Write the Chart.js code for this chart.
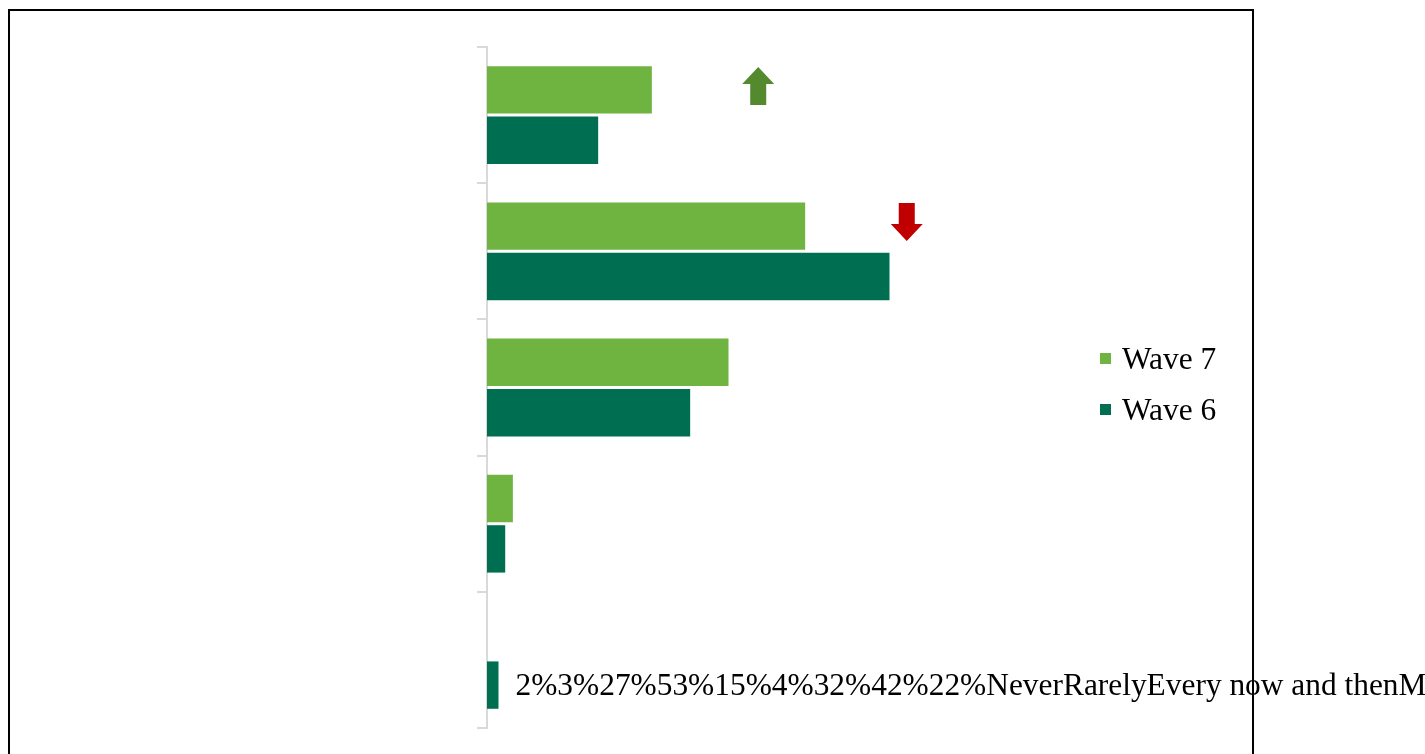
<!DOCTYPE html>
<html>
<head>
<meta charset="utf-8">
<script src="https://cdn.jsdelivr.net/npm/chart.js@4"></script>
<style>
    html, body { margin: 0; padding: 0; background: #fff; overflow: hidden; }
    #wrap { position: relative; width: 1425px; height: 754px; }
</style>
</head>
<body>
<div id="wrap"><canvas id="chart"></canvas></div>
<script>
// categories listed bottom to top (axis is reversed)
const categories = ['Never', 'Rarely', 'Every now and then', 'Most of the time', 'Always'];
const wave7 = [0, 2.7, 25.2, 33.2, 17.2];
const wave6 = [1.2, 1.9, 21.2, 42.0, 11.6];
const labelText = ['2%', '3%', '27%', '53%', '15%', '4%', '32%', '42%', '22%'];

// change markers: category index, value position, direction
const arrowCats = [4, 3];
const arrowVals = [28.3, 43.8];
const arrowDirs = ['up', 'down'];

const FONT = '31.4px "Liberation Serif", "Times New Roman", serif';

const extrasPlugin = {
    id: 'extras',
    afterDatasetsDraw(chart) {
        const ctx = chart.ctx;
        const xs = chart.scales.x;
        const bars7 = chart.getDatasetMeta(0).data;
        const bars6 = chart.getDatasetMeta(1).data;
        ctx.save();

        // arrows
        arrowCats.forEach((ci, i) => {
            const cx = xs.getPixelForValue(arrowVals[i]);
            const cy = bars7[ci].y - 4;
            const h = 38, w = 32, sw = 16, hh = 21;
            const top = cy - h / 2, bot = cy + h / 2;
            ctx.beginPath();
            if (arrowDirs[i] === 'up') {
                ctx.fillStyle = '#548A2E';
                ctx.moveTo(cx, top);
                ctx.lineTo(cx + w / 2, top + hh - 4);
                ctx.lineTo(cx + sw / 2, top + hh - 4);
                ctx.lineTo(cx + sw / 2, bot);
                ctx.lineTo(cx - sw / 2, bot);
                ctx.lineTo(cx - sw / 2, top + hh - 4);
                ctx.lineTo(cx - w / 2, top + hh - 4);
            } else {
                ctx.fillStyle = '#C00000';
                ctx.moveTo(cx, bot);
                ctx.lineTo(cx + w / 2, bot - hh + 4);
                ctx.lineTo(cx + sw / 2, bot - hh + 4);
                ctx.lineTo(cx + sw / 2, top);
                ctx.lineTo(cx - sw / 2, top);
                ctx.lineTo(cx - sw / 2, bot - hh + 4);
                ctx.lineTo(cx - w / 2, bot - hh + 4);
            }
            ctx.closePath();
            ctx.fill();
        });

        // run-together label text next to the first bar
        const b = bars6[0];
        ctx.font = FONT;
        ctx.fillStyle = '#000';
        ctx.textBaseline = 'alphabetic';
        ctx.textAlign = 'left';
        ctx.fillText(labelText.join('') + categories.join(''), b.x + 17, b.y + 10);

        // legend
        const items = [chart.data.datasets[0], chart.data.datasets[1]];
        items.forEach((ds, i) => {
            const cy = 359 + i * 51;
            ctx.fillStyle = ds.backgroundColor;
            ctx.fillRect(1100, cy - 6, 11, 11);
            ctx.fillStyle = '#000';
            ctx.fillText(ds.label, 1122, cy + 10);
        });

        // outer frame
        ctx.strokeStyle = '#000';
        ctx.lineWidth = 2;
        ctx.strokeRect(9, 10, 1244, 800);
        ctx.restore();
    }
};

new Chart(document.getElementById('chart'), {
    type: 'bar',
    data: {
        labels: categories,
        datasets: [
            { label: 'Wave 7', data: wave7, backgroundColor: '#6FB340' },
            { label: 'Wave 6', data: wave6, backgroundColor: '#006F51' }
        ]
    },
    options: {
        indexAxis: 'y',
        responsive: true,
        maintainAspectRatio: false,
        animation: false,
        categoryPercentage: 0.74,
        barPercentage: 0.94,
        layout: { padding: { top: 47, bottom: 26, left: 0, right: 363 } },
        plugins: {
            legend: { display: false },
            tooltip: { enabled: false }
        },
        scales: {
            x: {
                display: false,
                min: 0,
                max: 60
            },
            y: {
                reverse: true,
                afterFit: (s) => { s.width = 487; },
                ticks: { display: false },
                grid: {
                    drawOnChartArea: false,
                    drawTicks: true,
                    tickLength: 10,
                    color: '#D9D9D9',
                    lineWidth: 2
                },
                border: { color: '#D9D9D9', width: 2 }
            }
        }
    },
    plugins: [extrasPlugin]
});
</script>
</body>
</html>
